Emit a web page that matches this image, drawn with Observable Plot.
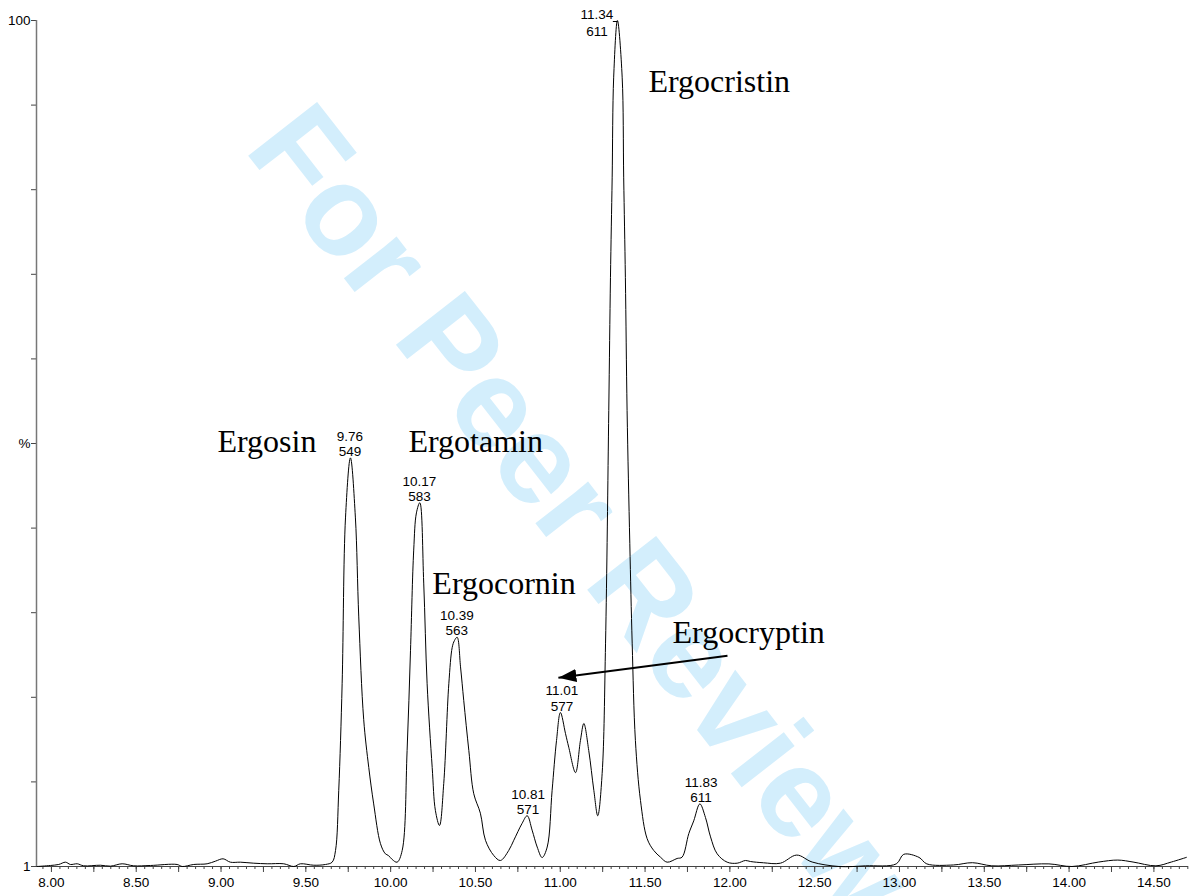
<!DOCTYPE html>
<html><head><meta charset="utf-8">
<script src="https://cdn.jsdelivr.net/npm/d3@7"></script>
<script src="https://cdn.jsdelivr.net/npm/@observablehq/plot@0.6"></script>
<style>html,body{margin:0;padding:0;background:#fff}#chart svg{display:block}</style>
</head><body><div id="chart"></div>
<script>
// Chromatogram trace: retention time (min) and relative intensity (%)
const time = [7.916, 7.994, 8.043, 8.083, 8.112, 8.152, 8.190, 8.289, 8.348, 8.417,
  8.485, 8.584, 8.741, 8.771, 8.839, 8.918, 8.967, 9.012, 9.055, 9.114,
  9.193, 9.272, 9.370, 9.429, 9.468, 9.547, 9.616, 9.655,
  9.675, 9.694, 9.714, 9.734, 9.763, 9.792, 9.812, 9.841, 9.871, 9.900,
  9.940, 9.969, 9.987, 10.009, 10.038, 10.068, 10.097, 10.117, 10.136, 10.152,
  10.172, 10.195, 10.215, 10.245, 10.264, 10.288, 10.313, 10.343, 10.363, 10.376,
  10.392, 10.412, 10.431, 10.461, 10.490, 10.529, 10.559, 10.608, 10.647, 10.696,
  10.726, 10.775, 10.805, 10.834, 10.864, 10.893, 10.923, 10.952, 10.978, 11.001,
  11.031, 11.050, 11.090, 11.119, 11.139, 11.168, 11.198, 11.221, 11.247, 11.267,
  11.286, 11.296, 11.306, 11.315, 11.337, 11.365, 11.374, 11.384, 11.394, 11.410,
  11.424, 11.443, 11.473, 11.512, 11.551, 11.591, 11.630, 11.689, 11.718, 11.758,
  11.787, 11.823, 11.856, 11.886, 11.925, 11.984, 12.043, 12.092, 12.121, 12.198,
  12.298, 12.394, 12.485, 12.643, 12.800, 12.981, 13.025, 13.115, 13.161, 13.318,
  13.430, 13.544, 13.702, 13.881, 14.017, 14.175, 14.287, 14.377, 14.512, 14.603, 14.692];
const intensity = [0.0, 0.12, 0.24, 0.51, 0.24, 0.32, 0.08, 0.15, 0.04, 0.32,
  0.08, 0.12, 0.24, 0.0, 0.24, 0.32, 0.63, 0.91, 0.51, 0.51,
  0.39, 0.32, 0.32, 0.0, 0.32, 0.15, 0.24, 0.51,
  1.89, 9.0, 21.6, 41.3, 48.3, 41.3, 29.5, 17.4, 11.7, 7.4,
  2.7, 1.5, 1.3, 0.83, 0.51, 1.89, 13.7, 25.5, 37.4, 41.8,
  43.0, 33.5, 21.6, 11.7, 6.6, 4.85, 9.8, 21.6, 25.9, 26.7,
  27.1, 23.6, 19.6, 13.7, 8.6, 6.3, 3.1, 1.3, 0.71, 1.89,
  3.1, 5.1, 6.0, 4.3, 2.3, 1.06, 2.3, 9.0, 14.9, 18.2,
  15.7, 14.1, 11.1, 14.9, 16.9, 13.7, 9.0, 6.0, 11.0, 26.4,
  53.9, 69.6, 81.4, 93.3, 100, 93.3, 81.4, 69.6, 53.9, 38.2,
  26.4, 14.9, 7.8, 3.3, 1.9, 1.1, 0.51, 0.95, 1.1, 3.9,
  5.4, 7.4, 5.8, 3.5, 1.5, 0.51, 0.39, 0.71, 0.59, 0.44,
  0.39, 1.35, 0.53, 0.0, 0.08, 0.31, 1.44, 1.08, 0.31, 0.18,
  0.45, 0.08, 0.18, 0.31, 0.0, 0.53, 0.76, 0.53, 0.08, 0.53, 1.08];

// Peak annotations (retention time, height %, m/z)
const peakTimes = [9.76, 10.17, 10.39, 10.81, 11.01, 11.83];
const peakHeights = [48.3, 43.0, 27.1, 6.0, 18.2, 7.4];
const peakMasses = [549, 583, 563, 571, 577, 611];
const basePeakTime = [11.34];
const basePeakHeight = [100];
const basePeakMass = [611];

// Compound names and their label anchors (time, %)
const compoundNames = ["Ergosin", "Ergotamin", "Ergocornin", "Ergocristin", "Ergocryptin"];
const compoundTimes = [8.979, 10.105, 10.246, 11.520, 11.662];
const compoundLevels = [49.0, 49.0, 32.2, 91.6, 26.4];

// Arrow from "Ergocryptin" to its peak
const arrowTimes = [11.986, 10.989];
const arrowLevels = [24.9, 22.3];

// Axis ticks
const xTickLabels = ["8.00","8.50","9.00","9.50","10.00","10.50","11.00","11.50","12.00","12.50","13.00","13.50","14.00","14.50"];
const yTickValues = [0, 50, 100];
const yTickLabels = ["1", "%", "100"];
const xDomain = [7.912, 14.704];

const watermark = ["For Peer Review"];
const watermarkPos = [{t: 9.13, v: 84.8}];

const trace = time.map((t, i) => ({t, v: intensity[i]}));
const peaks = peakTimes.map((t, i) => ({t, v: peakHeights[i], label: `${t.toFixed(2)}\n${peakMasses[i]}`}));
const basePeak = basePeakTime.map((t, i) => ({t, v: basePeakHeight[i], label: `${t.toFixed(2)}\n${basePeakMass[i]}`}));
const compounds = compoundNames.map((name, i) => ({name, t: compoundTimes[i], v: compoundLevels[i]}));
const arrow = [{x1: arrowTimes[0], y1: arrowLevels[0], x2: arrowTimes[1], y2: arrowLevels[1]}];
const xTickValues = xTickLabels.map(Number);
const xMinor = d3.range(Math.ceil(xDomain[0] * 20), Math.floor(xDomain[1] * 20) + 1).map(i => i / 20);
const xQuarter = xMinor.filter(d => Math.abs(d * 4 - Math.round(d * 4)) < 1e-9);
const yMinor = d3.range(0, 101, 10);

const sans = "'Liberation Sans', Arial, Helvetica, sans-serif";
const serif = "'Liberation Serif', 'Times New Roman', Times, serif";

const chart = Plot.plot({
  width: 1190,
  height: 896,
  marginLeft: 36,
  marginRight: 2,
  marginTop: 20,
  marginBottom: 30,
  style: {fontFamily: sans, fontSize: "13.5px", background: "white", overflow: "visible"},
  x: {domain: xDomain},
  y: {domain: [0, 100]},
  marks: [
    Plot.text(watermarkPos, {x: "t", y: "v", text: () => watermark[0], rotate: 52, fontSize: 127, fontWeight: "bold",
      fontFamily: sans, fill: "#d3eefc", textAnchor: "start", lineAnchor: "bottom"}),
    Plot.axisX(xMinor, {tickSize: 3, tickFormat: () => "", stroke: "#444"}),
    Plot.axisX(xQuarter, {tickSize: 6, tickFormat: () => "", stroke: "#444"}),
    Plot.axisX(xTickValues, {tickSize: 0, tickPadding: 11, fontSize: 13.5, fill: "black",
      tickFormat: d => xTickLabels[xTickValues.indexOf(d)]}),
    Plot.axisY(yMinor, {tickSize: 5, tickPadding: 1, fontSize: 13.5, fill: "black", stroke: "#444",
      tickFormat: d => { const i = yTickValues.indexOf(d); return i >= 0 ? yTickLabels[i] : ""; }}),
    Plot.ruleX([xDomain[0]], {y1: 0, y2: 100, stroke: "#777", strokeWidth: 1.5}),
    Plot.ruleY([0], {stroke: "#444"}),
    Plot.line(trace, {x: "t", y: "v", curve: "catmull-rom", stroke: "black", strokeWidth: 1}),
    Plot.text(peaks, {x: "t", y: "v", text: "label", lineAnchor: "bottom", dy: -2, fontSize: 13.5, lineHeight: 1.12, fill: "black"}),
    Plot.text(basePeak, {x: "t", y: "v", text: "label", lineAnchor: "middle", dx: -21, dy: 2, fontSize: 13.5, lineHeight: 1.25, fill: "black"}),
    Plot.ruleY(basePeak, {y: "v", x1: d => d.t - 0.027, x2: "t", stroke: "black", strokeWidth: 1, dy: 1}),
    Plot.text(compounds, {x: "t", y: "v", text: "name", textAnchor: "start", lineAnchor: "bottom",
      fontFamily: serif, fontSize: 32, fill: "black"}),
    Plot.link(arrow, {x1: "x1", y1: "y1", x2: "x2", y2: "y2", stroke: "black", strokeWidth: 2})
  ]
});

// filled arrow head on the annotation arrow
const svg = d3.select(chart);
const defs = svg.append("defs");
defs.append("marker")
  .attr("id", "filled-arrow")
  .attr("viewBox", "0 0 10 10")
  .attr("refX", 10).attr("refY", 5)
  .attr("markerUnits", "userSpaceOnUse")
  .attr("markerWidth", 18).attr("markerHeight", 13)
  .attr("preserveAspectRatio", "none")
  .attr("orient", "auto")
  .append("path").attr("d", "M0,0L10,5L0,10Z").attr("fill", "black");
svg.selectAll('g[aria-label="link"] path').attr("marker-end", "url(#filled-arrow)");

document.getElementById("chart").append(chart);
</script>
</body></html>
